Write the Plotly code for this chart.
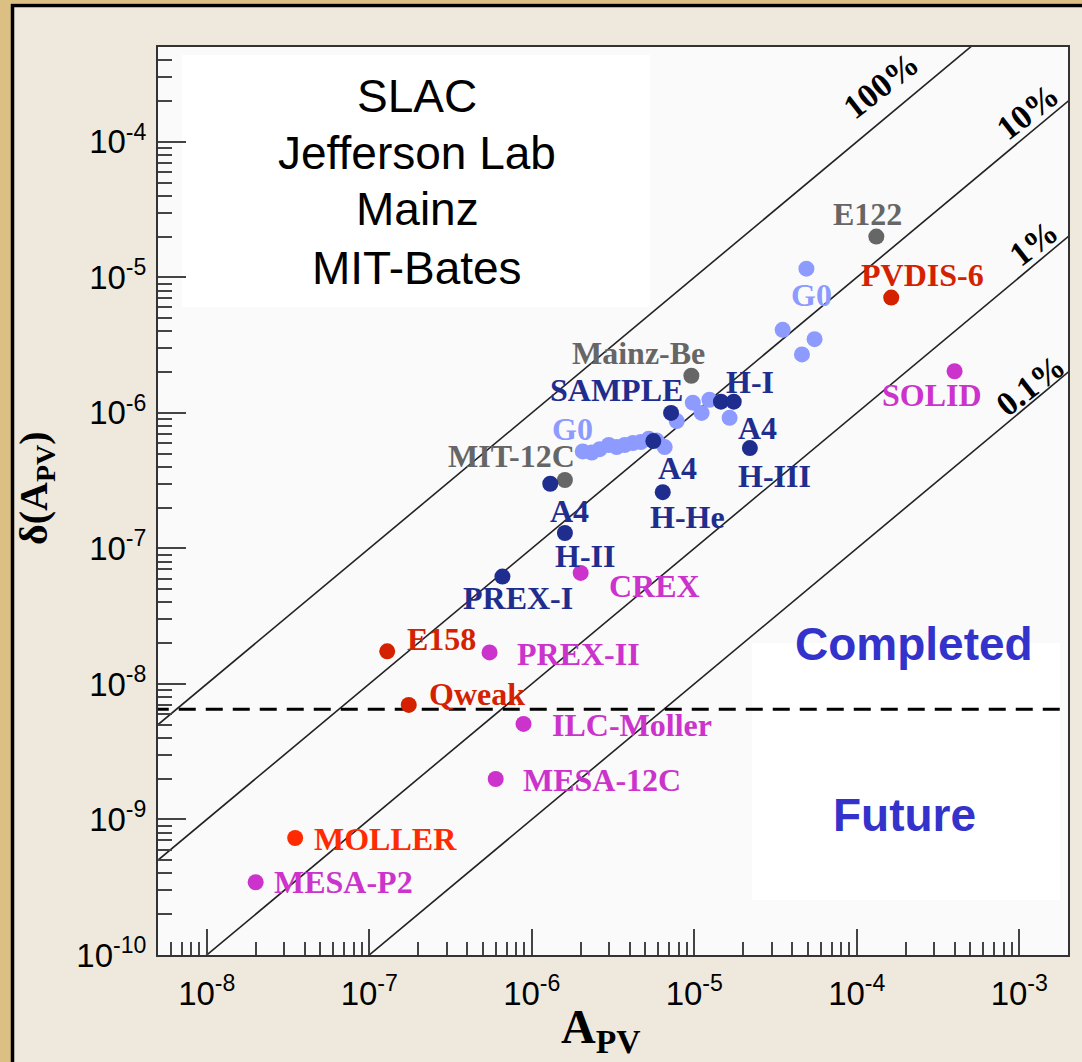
import numpy as np
import plotly.graph_objects as go

# ---------------------------------------------------------------
# Parity-violating asymmetries A_PV and their absolute errors
# ---------------------------------------------------------------
# G0 (forward and backward angle points)
g0_apv = [4.9e-5, 3.5e-5, 5.5e-5, 4.6e-5, 9.8e-6, 1.24e-5, 1.11e-5, 1.65e-5, 7.8e-6,
          2.06e-6, 2.34e-6, 2.62e-6, 2.98e-6, 3.33e-6, 3.73e-6, 4.19e-6, 4.69e-6,
          5.25e-6, 5.87e-6, 6.58e-6]
g0_dapv = [1.16e-5, 4.1e-6, 3.5e-6, 2.7e-6, 1.19e-6, 1.25e-6, 1.0e-6, 9.2e-7, 8.7e-7,
           5.2e-7, 5.1e-7, 5.4e-7, 5.8e-7, 5.6e-7, 5.8e-7, 6.0e-7, 6.1e-7,
           6.45e-7, 6.25e-7, 5.6e-7]

# Early fixed-target measurements
gray_names = ["E122", "Mainz-Be", "MIT-12C"]
gray_apv = [1.32e-4, 9.6e-6, 1.6e-6]
gray_dapv = [2.0e-5, 1.88e-6, 3.2e-7]

# Strange-form-factor and neutron-skin programmes
navy_names = ["SAMPLE", "A4 fwd", "H-I", "A4 back", "H-III", "H-He", "A4 low", "H-II", "PREX-I"]
navy_apv = [7.2e-6, 5.6e-6, 1.46e-5, 1.75e-5, 2.2e-5, 6.4e-6, 1.3e-6, 1.6e-6, 6.6e-7]
navy_dapv = [1.0e-6, 6.2e-7, 1.21e-6, 1.21e-6, 5.5e-7, 2.6e-7, 3.0e-7, 1.3e-7, 6.2e-8]

# Electroweak precision measurements
red_names = ["E158", "Qweak", "PVDIS-6"]
red_apv = [1.29e-7, 1.75e-7, 1.63e-4]
red_dapv = [1.74e-8, 7.0e-9, 7.1e-6]

moller_names = ["MOLLER"]
moller_apv = [3.5e-8]
moller_dapv = [7.3e-10]

# Upcoming / proposed experiments
mag_names = ["CREX", "PREX-II", "ILC-Moller", "MESA-12C", "MESA-P2", "SOLID"]
mag_apv = [2.0e-6, 5.5e-7, 8.9e-7, 6.0e-7, 2.0e-8, 4.0e-4]
mag_dapv = [6.6e-8, 1.71e-8, 5.07e-9, 1.99e-9, 3.44e-10, 2.03e-6]

# Relative-precision reference lines dA = f * A
precision_fracs = [1.0, 0.1, 0.01, 0.001]
precision_text = ["100%", "10%", "1%", "0.1%"]

# Boundary between completed and future experiments
divider_dapv = 6.5e-9

# Axis ticks
x_tickvals = [1e-8, 1e-7, 1e-6, 1e-5, 1e-4, 1e-3]
x_ticktext = ["10<sup>-8</sup>", "10<sup>-7</sup>", "10<sup>-6</sup>",
              "10<sup>-5</sup>", "10<sup>-4</sup>", "10<sup>-3</sup>"]
y_tickvals = [1e-10, 1e-9, 1e-8, 1e-7, 1e-6, 1e-5, 1e-4]
y_ticktext = ["10<sup>-10</sup>", "10<sup>-9</sup>", "10<sup>-8</sup>", "10<sup>-7</sup>",
              "10<sup>-6</sup>", "10<sup>-5</sup>", "10<sup>-4</sup>"]

# ---------------------------------------------------------------
# Styling
# ---------------------------------------------------------------
C_G0 = "#8d9bff"
C_GRAY = "#666666"
C_NAVY = "#1f2d8e"
C_RED = "#d42200"
C_MOLLER = "#ff2a00"
C_MAG = "#cc33cc"
C_BLUE_TXT = "#3333cc"

W, H = 1082, 1062
L, R, T, B = 158, 1068, 47, 955  # plot-area edges in pixels
SERIF = "Times New Roman, Liberation Serif, serif"
SANS = "Arial, Liberation Sans, Helvetica, sans-serif"


def px(xp):
    return (xp - L) / (R - L)


def py(yp):
    return (B - yp) / (B - T)


fig = go.Figure()

# precision lines
x_span = np.array([1e-10, 1e-1])
for f in precision_fracs:
    fig.add_trace(go.Scatter(x=x_span, y=f * x_span, mode="lines",
                             line=dict(color="#222222", width=1.6),
                             hoverinfo="skip", showlegend=False))

# completed / future divider
fig.add_trace(go.Scatter(x=x_span, y=[divider_dapv, divider_dapv], mode="lines",
                         line=dict(color="black", width=3, dash="17px,10px"),
                         hoverinfo="skip", showlegend=False))


def add_points(xs, ys, color, names=None):
    fig.add_trace(go.Scatter(x=xs, y=ys, mode="markers", text=names,
                             marker=dict(size=16, color=color, line=dict(width=0)),
                             showlegend=False))


add_points(g0_apv, g0_dapv, C_G0)
add_points(gray_apv, gray_dapv, C_GRAY, gray_names)
add_points(navy_apv, navy_dapv, C_NAVY, navy_names)
add_points(red_apv, red_dapv, C_RED, red_names)
add_points(moller_apv, moller_dapv, C_MOLLER, moller_names)
add_points(mag_apv, mag_dapv, C_MAG, mag_names)

# lookup of point coordinates for label placement
pts = {}
for nm, a, d in zip(gray_names, gray_apv, gray_dapv):
    pts[nm] = (a, d)
for nm, a, d in zip(navy_names, navy_apv, navy_dapv):
    pts[nm] = (a, d)
for nm, a, d in zip(red_names, red_apv, red_dapv):
    pts[nm] = (a, d)
for nm, a, d in zip(moller_names, moller_apv, moller_dapv):
    pts[nm] = (a, d)
for nm, a, d in zip(mag_names, mag_apv, mag_dapv):
    pts[nm] = (a, d)
pts["G0 back"] = (g0_apv[0], g0_dapv[0])
pts["G0 fwd"] = (g0_apv[9], g0_dapv[9])

# (text, anchor point, x offset px, y offset px, colour)
labels = [
    ("E122", "E122", -9, 23, C_GRAY),
    ("PVDIS-6", "PVDIS-6", 31, 23, C_RED),
    ("SOLID", "SOLID", -23, -24, C_MAG),
    ("G0", "G0 back", 5, -26, C_G0),
    ("Mainz-Be", "Mainz-Be", -53, 23, C_GRAY),
    ("SAMPLE", "SAMPLE", -55, 23, C_NAVY),
    ("H-I", "H-I", 29, 20, C_NAVY),
    ("G0", "G0 fwd", -10, 22, C_G0),
    ("A4", "A4 back", 24, -26, C_NAVY),
    ("H-III", "H-III", 25, -28, C_NAVY),
    ("MIT-12C", "MIT-12C", -53, 24, C_GRAY),
    ("A4", "A4 fwd", 24, -27, C_NAVY),
    ("H-He", "H-He", 25, -25, C_NAVY),
    ("A4", "A4 low", 19, -27, C_NAVY),
    ("H-II", "H-II", 20, -23, C_NAVY),
    ("PREX-I", "PREX-I", 16, -21, C_NAVY),
    ("CREX", "CREX", 74, -13, C_MAG),
    ("E158", "E158", 54, 12, C_RED),
    ("PREX-II", "PREX-II", 89, -2, C_MAG),
    ("Qweak", "Qweak", 68, 11, C_RED),
    ("ILC-Moller", "ILC-Moller", 108, -1, C_MAG),
    ("MESA-12C", "MESA-12C", 106, -1, C_MAG),
    ("MOLLER", "MOLLER", 90, -1, C_MOLLER),
    ("MESA-P2", "MESA-P2", 88, 0, C_MAG),
]

annotations = []
for text, key, dx, dy, col in labels:
    a, d = pts[key]
    annotations.append(dict(x=np.log10(a), y=np.log10(d), xref="x", yref="y",
                            text=f"<b>{text}</b>", showarrow=False,
                            xanchor="center", yanchor="middle", xshift=dx, yshift=dy,
                            font=dict(family=SERIF, size=32, color=col)))

# precision line labels
for text, (xp, yp) in zip(precision_text, [(881, 86), (1028, 112), (1033, 243), (1030, 385)]):
    annotations.append(dict(x=px(xp), y=py(yp), xref="paper", yref="paper",
                            text=f"<b>{text}</b>", showarrow=False, textangle=-38,
                            xanchor="center", yanchor="middle",
                            font=dict(family=SERIF, size=34, color="black")))

# laboratories
for text, yp in zip(["SLAC", "Jefferson Lab", "Mainz", "MIT-Bates"], [96, 152.5, 209, 267.5]):
    annotations.append(dict(x=px(417), y=py(yp), xref="paper", yref="paper",
                            text=text, showarrow=False, xanchor="center", yanchor="middle",
                            font=dict(family=SANS, size=46, color="black")))

annotations.append(dict(x=px(914), y=py(644), xref="paper", yref="paper",
                        text="<b>Completed</b>", showarrow=False,
                        xanchor="center", yanchor="middle",
                        font=dict(family=SANS, size=46, color=C_BLUE_TXT)))
annotations.append(dict(x=px(904), y=py(815), xref="paper", yref="paper",
                        text="<b>Future</b>", showarrow=False,
                        xanchor="center", yanchor="middle",
                        font=dict(family=SANS, size=46, color=C_BLUE_TXT)))

# axis titles
annotations.append(dict(x=px(600), y=py(1030), xref="paper", yref="paper",
                        text="<b>A<sub>PV</sub></b>", showarrow=False,
                        xanchor="center", yanchor="middle",
                        font=dict(family=SERIF, size=48, color="black")))
annotations.append(dict(x=px(36), y=py(488), xref="paper", yref="paper",
                        text="<b>δ(A<sub>PV</sub>)</b>", showarrow=False, textangle=-90,
                        xanchor="center", yanchor="middle",
                        font=dict(family=SERIF, size=40, color="black")))

shapes = [
    # white text panels
    dict(type="rect", xref="paper", yref="paper", x0=px(182), x1=px(650), y0=py(307), y1=py(55),
         fillcolor="white", line=dict(width=0), layer="below"),
    dict(type="rect", xref="paper", yref="paper", x0=px(752), x1=px(1060), y0=py(900), y1=py(643),
         fillcolor="white", line=dict(width=0), layer="below"),
    # page decoration: gilt edge and black frame
    dict(type="rect", xref="paper", yref="paper", x0=px(0), x1=px(11), y0=py(H), y1=py(0),
         fillcolor="#dcc083", line=dict(width=0), layer="below"),
    dict(type="rect", xref="paper", yref="paper", x0=px(0), x1=px(W), y0=py(3.5), y1=py(0),
         fillcolor="#dcc083", line=dict(width=0), layer="below"),
    dict(type="line", xref="paper", yref="paper", x0=px(12.5), x1=px(12.5), y0=py(H), y1=py(4),
         line=dict(color="black", width=3.5), layer="below"),
    dict(type="line", xref="paper", yref="paper", x0=px(11), x1=px(W), y0=py(5.5), y1=py(5.5),
         line=dict(color="black", width=3.5), layer="below"),
]

minor_x = [m * 10.0 ** k for k in range(-9, -2) for m in range(2, 10)]
minor_y = [m * 10.0 ** k for k in range(-11, -3) for m in range(2, 10)]

fig.update_layout(
    width=W, height=H,
    margin=dict(l=L, r=W - R, t=T, b=H - B, pad=0),
    paper_bgcolor="#efe9dd",
    plot_bgcolor="#fafafa",
    showlegend=False,
    annotations=annotations,
    shapes=shapes,
    xaxis=dict(type="log", range=[-8.3, -2.7], showgrid=False, zeroline=False,
               showline=True, linecolor="#333333", linewidth=2, mirror=True,
               ticks="inside", ticklen=26, tickwidth=1.5, tickcolor="#444444",
               tickmode="array", tickvals=x_tickvals, ticktext=x_ticktext,
               ticklabelstandoff=8,
               tickfont=dict(family=SANS, size=33, color="black"),
               minor=dict(tickmode="array", tickvals=minor_x, ticks="inside",
                          ticklen=13, tickwidth=1.5, tickcolor="#444444", showgrid=False)),
    yaxis=dict(type="log", range=[-10, -3.3], showgrid=False, zeroline=False,
               showline=True, linecolor="#333333", linewidth=2, mirror=True,
               ticks="inside", ticklen=28, tickwidth=1.5, tickcolor="#444444",
               tickmode="array", tickvals=y_tickvals, ticktext=y_ticktext,
               ticklabelstandoff=3,
               tickfont=dict(family=SANS, size=33, color="black"),
               minor=dict(tickmode="array", tickvals=minor_y, ticks="inside",
                          ticklen=14, tickwidth=1.5, tickcolor="#444444", showgrid=False)),
)

fig.write_html("out.html")
